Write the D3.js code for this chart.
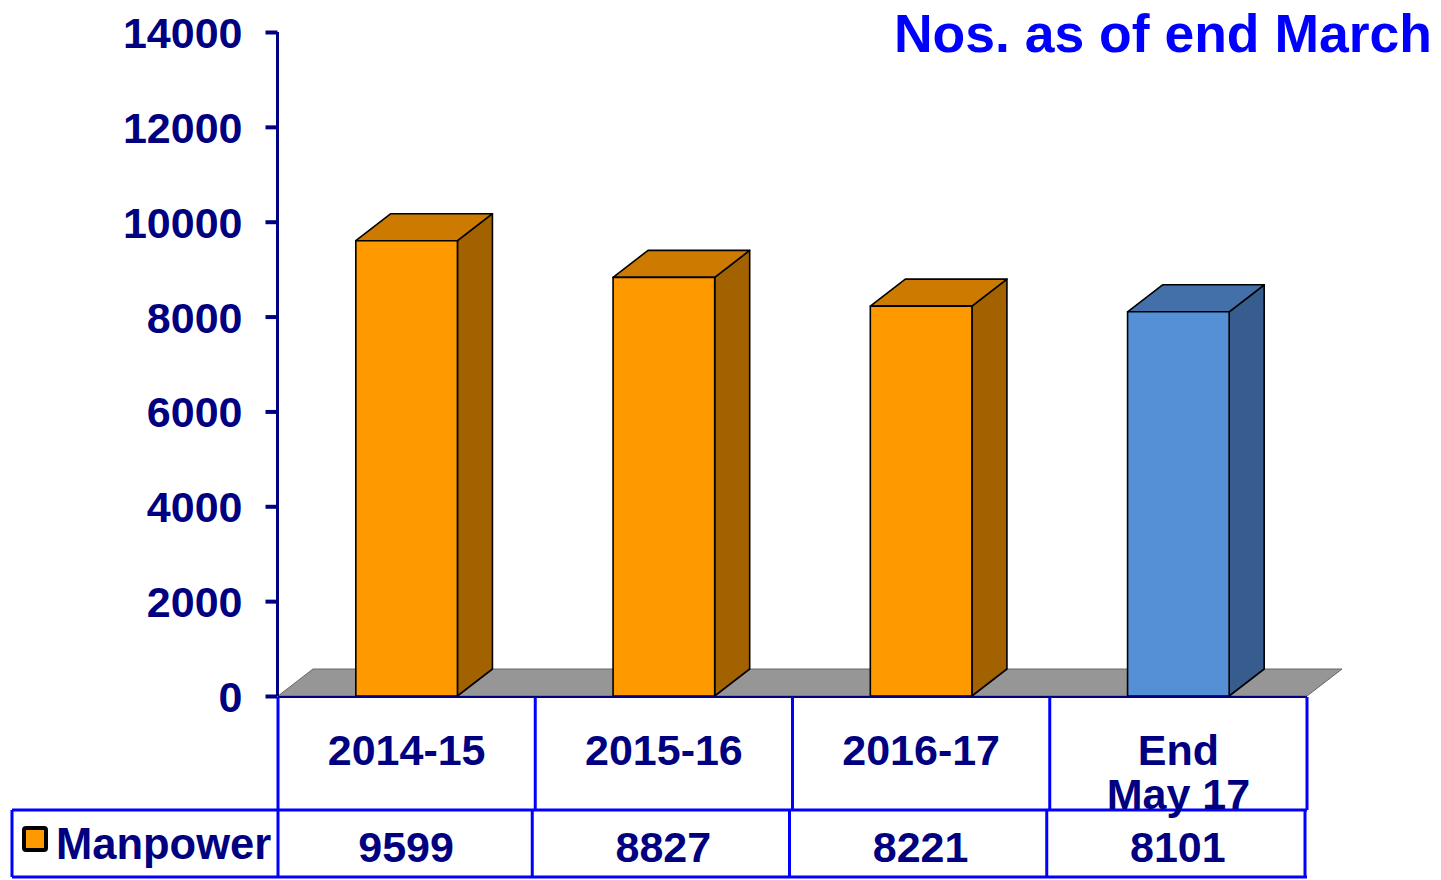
<!DOCTYPE html>
<html><head><meta charset="utf-8">
<script src="https://cdn.jsdelivr.net/npm/d3@7"></script>
<style>
html,body{margin:0;padding:0;background:#fff;}
svg{display:block;font-family:"Liberation Sans",Arial,sans-serif;font-weight:bold;}
</style></head>
<body>
<svg id="c" width="1441" height="880"></svg>
<script>
const categories = ["2014-15", "2015-16", "2016-17", "End May 17"];
const categoryLines = [["2014-15"], ["2015-16"], ["2016-17"], ["End", "May 17"]];
const values = [9599, 8827, 8221, 8101];
const seriesName = "Manpower";
const tickValues = [0, 2000, 4000, 6000, 8000, 10000, 12000, 14000];
const title = "Nos. as of end March";

const svg = d3.select("#c");
const navy = "#000080", blue = "#0000ff";
const dx = 35, dy = -27;
const x0 = 278, x1 = 1307;
const fs = 43;

const y = d3.scaleLinear().domain([0, 14000]).range([696, 32]);
const x = d3.scaleBand().domain(categories).range([x0, x1]).paddingInner(0.605).paddingOuter(0.3025);
const cells = d3.scaleBand().domain(categories).range([x0, x1]).padding(0);

const colors = categories.map((c, i) => i < 3
  ? {front: "#FF9900", top: "#CC7A00", side: "#A36200"}
  : {front: "#5590D6", top: "#4470AA", side: "#365D8D"});

// floor
const yb = y(0);
svg.append("polygon")
  .attr("points", [[x0, yb], [x0 + dx, yb + dy], [x1 + dx, yb + dy], [x1, yb]].map(p => p.join(",")).join(" "))
  .attr("fill", "#969696").attr("stroke", "#666").attr("stroke-width", 1);

// bars
const g = svg.append("g");
values.forEach((v, i) => {
  const bx = x(categories[i]), bw = x.bandwidth(), top = y(v), bot = y(0);
  const c = colors[i];
  const bar = g.append("g").attr("stroke", "#000").attr("stroke-width", 1.6).attr("stroke-linejoin", "round");
  bar.append("polygon").attr("fill", c.side)
    .attr("points", [[bx + bw, top], [bx + bw + dx, top + dy], [bx + bw + dx, bot + dy], [bx + bw, bot]].map(p => p.join(",")).join(" "));
  bar.append("polygon").attr("fill", c.top)
    .attr("points", [[bx, top], [bx + dx, top + dy], [bx + bw + dx, top + dy], [bx + bw, top]].map(p => p.join(",")).join(" "));
  bar.append("rect").attr("fill", c.front).attr("x", bx).attr("y", top).attr("width", bw).attr("height", bot - top);
});

// y axis
const yAxis = d3.axisLeft(y).tickValues(tickValues).tickSize(12).tickPadding(23).tickFormat(d3.format("d"));
const ag = svg.append("g").attr("transform", "translate(277.5,0)").call(yAxis);
ag.select(".domain").attr("stroke", navy).attr("stroke-width", 3).attr("d", `M0,${y(14000)}V${y(0)}`);
ag.selectAll(".tick line").attr("stroke", navy).attr("stroke-width", 4);
ag.selectAll(".tick text").attr("fill", navy).attr("font-size", fs).attr("font-weight", "bold")
  .attr("font-family", '"Liberation Sans",Arial,sans-serif').attr("dy", "0.36em");

// x axis base line
svg.append("line").attr("x1", x0).attr("x2", x1).attr("y1", yb + 1).attr("y2", yb + 1).attr("stroke", navy).attr("stroke-width", 2);

// table
const t = svg.append("g").attr("stroke", blue).attr("stroke-width", 3).attr("fill", "none");
const rowTop = 697, rowMid = 810, rowBot = 877, legLeft = 12;
const bounds = categories.map(c => cells(c)).concat([x1]);
bounds.forEach(b => t.append("line").attr("x1", b).attr("x2", b).attr("y1", rowTop).attr("y2", rowMid));
bounds.forEach((b, i) => {
  const bb = b - (i === 0 ? 0 : 3) + (i === bounds.length - 1 ? 1 : 0);
  t.append("line").attr("x1", bb).attr("x2", bb).attr("y1", rowMid).attr("y2", rowBot);
});
t.append("line").attr("x1", legLeft).attr("x2", legLeft).attr("y1", rowMid).attr("y2", rowBot);
t.append("line").attr("x1", legLeft).attr("x2", x1).attr("y1", rowMid).attr("y2", rowMid);
t.append("line").attr("x1", legLeft).attr("x2", x1).attr("y1", rowBot).attr("y2", rowBot);

// category labels
categoryLines.forEach((lines, i) => {
  const cx = cells(categories[i]) + cells.bandwidth() / 2;
  lines.forEach((ln, j) => {
    svg.append("text").attr("x", cx).attr("y", 765 + j * 44).attr("text-anchor", "middle")
      .attr("fill", navy).attr("font-size", fs).text(ln);
  });
});

// values row
values.forEach((v, i) => {
  const cx = cells(categories[i]) + cells.bandwidth() / 2 - 0.5;
  svg.append("text").attr("x", cx).attr("y", 862).attr("text-anchor", "middle")
    .attr("fill", navy).attr("font-size", fs).text(d3.format("d")(v));
});

// legend
svg.append("rect").attr("x", 24).attr("y", 828).attr("width", 22).attr("height", 22).attr("rx", 2)
  .attr("fill", colors[0].front).attr("stroke", "#000").attr("stroke-width", 4);
svg.append("text").attr("x", 56).attr("y", 859).attr("fill", navy).attr("font-size", 43.5).text(seriesName);

// title
svg.append("text").attr("x", 1432).attr("y", 52).attr("text-anchor", "end")
  .attr("fill", blue).attr("font-size", 53.5).text(title);
</script>
</body></html>
